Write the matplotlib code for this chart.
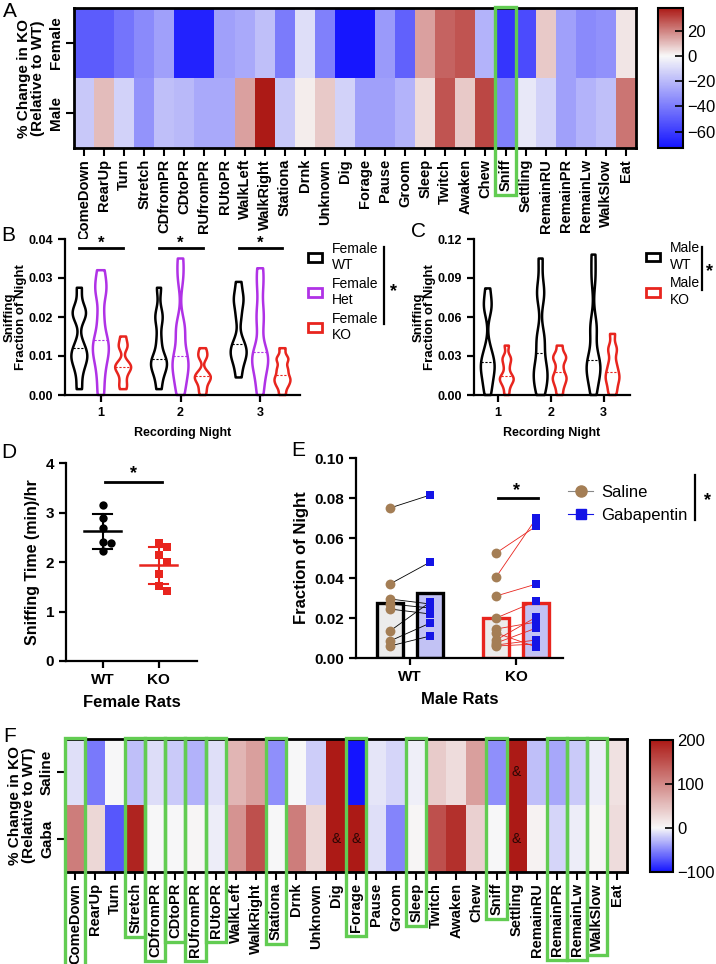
import numpy as np
import matplotlib
matplotlib.use('Agg')
import matplotlib.pyplot as plt
from matplotlib.colors import LinearSegmentedColormap, Normalize
from matplotlib.patches import Rectangle, Patch
from matplotlib.lines import Line2D

plt.rcParams['font.family'] = ['Liberation Sans', 'DejaVu Sans']

# ---------------- data ----------------
behaviors = ['ComeDown', 'RearUp', 'Turn', 'Stretch', 'CDfromPR', 'CDtoPR', 'RUfromPR',
             'RUtoPR', 'WalkLeft', 'WalkRight', 'Stationa', 'Drnk', 'Unknown', 'Dig',
             'Forage', 'Pause', 'Groom', 'Sleep', 'Twitch', 'Awaken', 'Chew', 'Sniff',
             'Settling', 'RemainRU', 'RemainPR', 'RemainLw', 'WalkSlow', 'Eat']

# A: % change in KO relative to WT
female_change = [-50, -50, -42, -35, -28, -68, -68, -28, -25, -18, -40, -8, -38, -72,
                 -72, -30, -48, 15, 25, 28, -22, -62, -55, 8, -28, -35, -33, 3]
male_change = [-15, 10, -12, -32, -18, -20, -25, -25, 15, 38, -15, 2, 8, -12,
               -28, -28, -22, 5, 28, 8, 30, -38, -5, -12, -28, -22, -18, 22]
boxed_a = ['Sniff']

# F: % change in KO relative to WT, saline vs gabapentin
saline_change = [-10, -55, 0, -25, -12, -20, -30, -10, 60, 80, -45, 0, -18, 200,
                 -100, -8, -15, -3, 40, 25, 80, -45, 200, -25, -35, -20, -5, 20]
gaba_change = [110, 30, -70, 190, 0, 0, 2, -5, 90, 150, 0, 110, 30, 200,
               200, -10, -50, 3, 150, 180, 35, 0, 200, 5, -15, -5, 3, 25]
amp_saline = ['Settling']
amp_gaba = ['Dig', 'Forage', 'Settling']
boxed_f = ['ComeDown', 'Stretch', 'CDfromPR', 'CDtoPR', 'RUfromPR', 'RUtoPR', 'Stationa',
           'Forage', 'Sleep', 'Sniff', 'RemainPR', 'RemainLw', 'WalkSlow']

# B: female sniffing fraction of night, per recording night
nights = [1, 2, 3]
fem_wt = [[0.0015, 0.006, 0.009, 0.0095, 0.011, 0.013, 0.020, 0.021, 0.022, 0.0275],
          [0.0015, 0.005, 0.007, 0.008, 0.0085, 0.010, 0.014, 0.019, 0.021, 0.0275],
          [0.0045, 0.008, 0.010, 0.011, 0.012, 0.014, 0.020, 0.024, 0.025, 0.029]]
fem_het = [[0.0, 0.005, 0.009, 0.011, 0.013, 0.015, 0.020, 0.026, 0.028, 0.032],
           [0.0, 0.003, 0.006, 0.0075, 0.009, 0.011, 0.016, 0.018, 0.030, 0.035],
           [0.0, 0.004, 0.007, 0.0088, 0.010, 0.012, 0.018, 0.022, 0.028, 0.0325]]
fem_ko = [[0.0015, 0.003, 0.005, 0.0065, 0.007, 0.0075, 0.0085, 0.012, 0.013, 0.015],
          [0.0, 0.0015, 0.003, 0.004, 0.0045, 0.005, 0.006, 0.0095, 0.0105, 0.012],
          [0.0, 0.002, 0.003, 0.004, 0.0045, 0.006, 0.007, 0.009, 0.0095, 0.012]]

# C: male sniffing fraction of night
male_wt = [[0.0, 0.008, 0.015, 0.020, 0.024, 0.027, 0.035, 0.066, 0.070, 0.082],
           [0.0, 0.008, 0.014, 0.019, 0.024, 0.040, 0.045, 0.075, 0.082, 0.105],
           [0.0, 0.010, 0.018, 0.021, 0.024, 0.030, 0.048, 0.055, 0.090, 0.108]]
male_ko = [[0.0, 0.006, 0.010, 0.012, 0.013, 0.016, 0.022, 0.027, 0.029, 0.038],
           [0.0, 0.006, 0.010, 0.013, 0.015, 0.020, 0.026, 0.029, 0.031, 0.038],
           [0.0, 0.005, 0.010, 0.013, 0.016, 0.020, 0.025, 0.033, 0.037, 0.047]]

# D: sniffing time (min/hr), female rats
d_wt = [3.15, 2.88, 2.68, 2.40, 2.38, 2.22]
d_ko = [2.38, 2.30, 2.14, 2.00, 1.76, 1.52, 1.42]

# E: male rats, saline vs gabapentin (paired)
e_wt_saline = [0.075, 0.037, 0.0295, 0.027, 0.0245, 0.0135, 0.0085, 0.006]
e_wt_gaba = [0.0815, 0.048, 0.027, 0.025, 0.022, 0.028, 0.0175, 0.011]
e_ko_saline = [0.0525, 0.0405, 0.031, 0.020, 0.0145, 0.0125, 0.009, 0.0075, 0.0065, 0.006]
e_ko_gaba = [0.066, 0.070, 0.037, 0.0285, 0.018, 0.0055, 0.0205, 0.015, 0.009, 0.007]

# ---------------- style ----------------
W, H = 716, 964
green = '#62cc52'
purple = '#b032e6'
red = '#e8251e'
brown = '#a47e55'
blue = '#1414e6'

fig = plt.figure(figsize=(W / 100, H / 100), dpi=100)


def px_axes(x0, y0, x1, y1):
    return fig.add_axes([x0 / W, 1 - y1 / H, (x1 - x0) / W, (y1 - y0) / H])


def div_cmap(vmin, vmax):
    z = -vmin / (vmax - vmin)
    return LinearSegmentedColormap.from_list(
        'div', [(0, '#1414ff'), (z, '#f8f8f8'), (1, '#ac1a16')])


def heatmap(ax, cax, rows, rowlabels, vmin, vmax, cticks):
    im = ax.imshow(np.array(rows), aspect='auto', cmap=div_cmap(vmin, vmax),
                   norm=Normalize(vmin, vmax), interpolation='nearest')
    ax.set_xticks(range(len(behaviors)))
    ax.set_xticklabels(behaviors, rotation=90, fontsize=10.5, fontweight='bold')
    ax.set_yticks(range(len(rowlabels)))
    ax.set_yticklabels(rowlabels, rotation=90, va='center', fontsize=11, fontweight='bold')
    ax.tick_params(length=6, width=1.5, pad=2)
    for s in ax.spines.values():
        s.set_linewidth(2)
    ax.set_ylabel('% Change in KO\n(Relative to WT)', fontsize=11, fontweight='bold',
                  labelpad=3, linespacing=1.0)
    cb = fig.colorbar(im, cax=cax, ticks=cticks)
    cb.ax.tick_params(labelsize=12, length=6, width=1.2, direction='in', pad=3)
    cb.outline.set_linewidth(1.5)
    return im


def prism(ax):
    for s in ['top', 'right']:
        ax.spines[s].set_visible(False)
    for s in ['left', 'bottom']:
        ax.spines[s].set_linewidth(1.6)
    ax.tick_params(width=1.6, length=5)


def violins(ax, groups, offsets, colors, width):
    for data, off, col in zip(groups, offsets, colors):
        pos = [n + off for n in nights]
        vp = ax.violinplot(data, positions=pos, widths=width, showextrema=False,
                           bw_method=0.27)
        for body, p, vals in zip(vp['bodies'], pos, data):
            body.set_facecolor('none')
            body.set_edgecolor(col)
            body.set_alpha(1)
            body.set_linewidth(1.8)
            body.set_clip_on(False)
            v = body.get_paths()[0].vertices
            right = v[v[:, 0] >= p]
            right = right[np.argsort(right[:, 1])]
            med = np.median(vals)
            half = np.interp(med, right[:, 1], right[:, 0]) - p
            ax.plot([p - half, p + half], [med, med], color=col, lw=0.8,
                    ls=(0, (2, 1.5)))


def swarm(vals, center, dx, dy):
    placed = []
    for v in vals:
        for k in [0, 1, -1, 2, -2]:
            x = center + k * dx
            if all(((x - px) / dx) ** 2 + ((v - py) / dy) ** 2 >= 1 for px, py in placed):
                break
        placed.append((x, v))
    return [p[0] for p in placed]


def bold_ticks(ax, size):
    for lbl in ax.get_xticklabels() + ax.get_yticklabels():
        lbl.set_fontweight('bold')
        lbl.set_fontsize(size)


# ---------------- A ----------------
ax_a = px_axes(74, 8, 636, 148)
cax_a = px_axes(658, 8, 683, 148)
heatmap(ax_a, cax_a, [female_change, male_change], ['Female', 'Male'], -73, 38,
        [20, 0, -20, -40, -60])

# ---------------- B ----------------
ax_b = px_axes(65, 239, 300, 395)
prism(ax_b)
violins(ax_b, [fem_wt, fem_het, fem_ko], [-0.27, 0.0, 0.28], ['black', purple, red], 0.2)
ax_b.set_xlim(0.55, 3.5)
ax_b.set_ylim(0, 0.04)
ax_b.set_xticks(nights)
ax_b.set_yticks([0, 0.01, 0.02, 0.03, 0.04], ['0.00', '0.01', '0.02', '0.03', '0.04'])
bold_ticks(ax_b, 9)
for n in nights:
    ax_b.plot([n - 0.27, n + 0.28], [0.0377, 0.0377], color='black', lw=2, clip_on=False)
    ax_b.text(n, 0.0388, '*', ha='center', va='center', fontsize=12, fontweight='bold')
ax_b.set_xlabel('Recording Night', fontsize=9, fontweight='bold', labelpad=6)
ax_b.set_ylabel('Sniffing\nFraction of Night', fontsize=9.5, fontweight='bold',
                labelpad=1, linespacing=1.0)
ax_b.legend([Patch(facecolor='white', edgecolor=c, lw=2) for c in ['black', purple, red]],
            ['Female\nWT', 'Female\nHet', 'Female\nKO'], loc='center left',
            bbox_to_anchor=(308 / W, 1 - 292 / H), bbox_transform=fig.transFigure,
            frameon=False, fontsize=10, handlelength=1.0, handleheight=0.6,
            handletextpad=0.7, labelspacing=0.35, borderpad=0, borderaxespad=0)
fig.add_artist(Line2D([384 / W, 384 / W], [1 - 247 / H, 1 - 324 / H], color='black', lw=1.6))
fig.text(393 / W, 1 - 292 / H, '*', ha='center', va='center', fontsize=13, fontweight='bold')

# ---------------- C ----------------
ax_c = px_axes(474, 239, 630, 395)
prism(ax_c)
violins(ax_c, [male_wt, male_ko], [-0.19, 0.17], ['black', red], 0.26)
ax_c.set_xlim(0.55, 3.5)
ax_c.set_ylim(0, 0.12)
ax_c.set_xticks(nights)
ax_c.set_yticks([0, 0.03, 0.06, 0.09, 0.12], ['0.00', '0.03', '0.06', '0.09', '0.12'])
bold_ticks(ax_c, 9)
ax_c.set_xlabel('Recording Night', fontsize=9, fontweight='bold', labelpad=6)
ax_c.set_ylabel('Sniffing\nFraction of Night', fontsize=9.5, fontweight='bold',
                labelpad=1, linespacing=1.0)
ax_c.legend([Patch(facecolor='white', edgecolor=c, lw=2) for c in ['black', red]],
            ['Male\nWT', 'Male\nKO'], loc='center left',
            bbox_to_anchor=(646 / W, 1 - 274 / H), bbox_transform=fig.transFigure,
            frameon=False, fontsize=10, handlelength=1.0, handleheight=0.6,
            handletextpad=0.7, labelspacing=0.35, borderpad=0, borderaxespad=0)
fig.add_artist(Line2D([702 / W, 702 / W], [1 - 247 / H, 1 - 290 / H], color='black', lw=1.6))
fig.text(710 / W, 1 - 272 / H, '*', ha='center', va='center', fontsize=13, fontweight='bold')

# ---------------- D ----------------
ax_d = px_axes(66, 463, 197, 661)
prism(ax_d)
ax_d.set_xlim(-0.66, 1.68)
ax_d.set_ylim(0, 4)
dx, dy = 8 / 56, 8 / 49.5
for i, (vals, col, mk) in enumerate([(d_wt, 'black', 'o'), (d_ko, red, 's')]):
    xs = swarm(vals, i, dx, dy)
    ax_d.scatter(xs, vals, s=36, marker=mk, color=col, zorder=3, linewidths=0)
    m, sd = np.mean(vals), np.std(vals, ddof=1)
    ax_d.plot([i - 0.33, i + 0.33], [m, m], color=col, lw=1.8, zorder=2)
    ax_d.plot([i, i], [m - sd, m + sd], color=col, lw=1.5, zorder=2)
    for y in [m - sd, m + sd]:
        ax_d.plot([i - 0.17, i + 0.17], [y, y], color=col, lw=1.5, zorder=2)
ax_d.plot([0.04, 1.06], [3.62, 3.62], color='black', lw=2)
ax_d.text(0.55, 3.78, '*', ha='center', va='center', fontsize=13, fontweight='bold')
ax_d.set_xticks([0, 1], ['WT', 'KO'])
ax_d.set_yticks([0, 1, 2, 3, 4])
bold_ticks(ax_d, 11)
ax_d.set_xlabel('Female Rats', fontsize=12, fontweight='bold', labelpad=6)
ax_d.set_ylabel('Sniffing Time (min)/hr', fontsize=11.5, fontweight='bold', labelpad=4)

# ---------------- E ----------------
ax_e = px_axes(356, 458, 563, 658)
prism(ax_e)
ax_e.set_xlim(-0.51, 1.44)
ax_e.set_ylim(0, 0.10)
off = 0.19
groups = [(0, e_wt_saline, e_wt_gaba, 'black'), (1, e_ko_saline, e_ko_gaba, red)]
for g, sal, gab, col in groups:
    ax_e.bar([g - off, g + off], [np.mean(sal), np.mean(gab)], width=0.245,
             color=['#ececec', '#c2c2f4'], edgecolor=col, linewidth=2.4, zorder=1)
    for a, b in zip(sal, gab):
        ax_e.plot([g - off, g + off], [a, b], color=col, lw=0.6, zorder=2)
    ax_e.scatter([g - off] * len(sal), sal, s=50, marker='o', color=brown, zorder=3,
                 linewidths=0, clip_on=False)
    ax_e.scatter([g + off] * len(gab), gab, s=40, marker='s', color=blue, zorder=3,
                 linewidths=0, clip_on=False)
ax_e.plot([0.83, 1.2], [0.08, 0.08], color='black', lw=2)
ax_e.text(1.0, 0.0838, '*', ha='center', va='center', fontsize=13, fontweight='bold')
ax_e.set_xticks([0, 1], ['WT', 'KO'])
ax_e.set_yticks([0, 0.02, 0.04, 0.06, 0.08, 0.10],
                ['0.00', '0.02', '0.04', '0.06', '0.08', '0.10'])
bold_ticks(ax_e, 11)
ax_e.set_xlabel('Male Rats', fontsize=12, fontweight='bold', labelpad=6)
ax_e.set_ylabel('Fraction of Night', fontsize=12, fontweight='bold', labelpad=4)
ax_e.legend([Line2D([0], [0], color='#888888', lw=0.8, marker='o', ms=8, mfc=brown, mec=brown),
             Line2D([0], [0], color=blue, lw=0.8, marker='s', ms=7, mfc=blue, mec=blue)],
            ['Saline', 'Gabapentin'], loc='center left',
            bbox_to_anchor=(568 / W, 1 - 504 / H), bbox_transform=fig.transFigure,
            frameon=False, fontsize=12, handlelength=1.5, handletextpad=0.5,
            labelspacing=0.5, borderpad=0, borderaxespad=0)
fig.add_artist(Line2D([695 / W, 695 / W], [1 - 475 / H, 1 - 520 / H], color='black', lw=1.6))
fig.text(707 / W, 1 - 501 / H, '*', ha='center', va='center', fontsize=13, fontweight='bold')

# ---------------- F ----------------
ax_f = px_axes(65, 739, 627, 872)
cax_f = px_axes(650, 740, 673, 872)
heatmap(ax_f, cax_f, [saline_change, gaba_change], ['Saline', 'Gaba'], -100, 200,
        [200, 100, 0, -100])
for r, names in enumerate([amp_saline, amp_gaba]):
    for name in names:
        ax_f.text(behaviors.index(name), r, '&', ha='center', va='center', fontsize=10,
                  color='#2a0604')

# ---------------- panel letters ----------------
for letter, x, y in [('A', 3, 2), ('B', 1, 226), ('C', 411, 222), ('D', 1, 443),
                     ('E', 291, 441), ('F', 3, 727)]:
    fig.text(x / W, 1 - y / H, letter, ha='left', va='top', fontsize=15)

# ---------------- green highlight boxes ----------------
fig.canvas.draw()
renderer = fig.canvas.get_renderer()
inv = fig.transFigure.inverted()
for ax, names in [(ax_a, boxed_a), (ax_f, boxed_f)]:
    labels = ax.get_xticklabels()
    for name in names:
        i = behaviors.index(name)
        bb = labels[i].get_window_extent(renderer)
        x0, top = inv.transform(ax.transData.transform((i - 0.5, -0.5)))
        x1, _ = inv.transform(ax.transData.transform((i + 0.5, -0.5)))
        bottom = inv.transform((0, bb.y0 - 4))[1]
        fig.add_artist(Rectangle((x0, bottom), x1 - x0, top - bottom + 1 / H,
                                 transform=fig.transFigure, fill=False,
                                 edgecolor=green, lw=2.4, zorder=10))

fig.savefig('out.png', dpi=100)
